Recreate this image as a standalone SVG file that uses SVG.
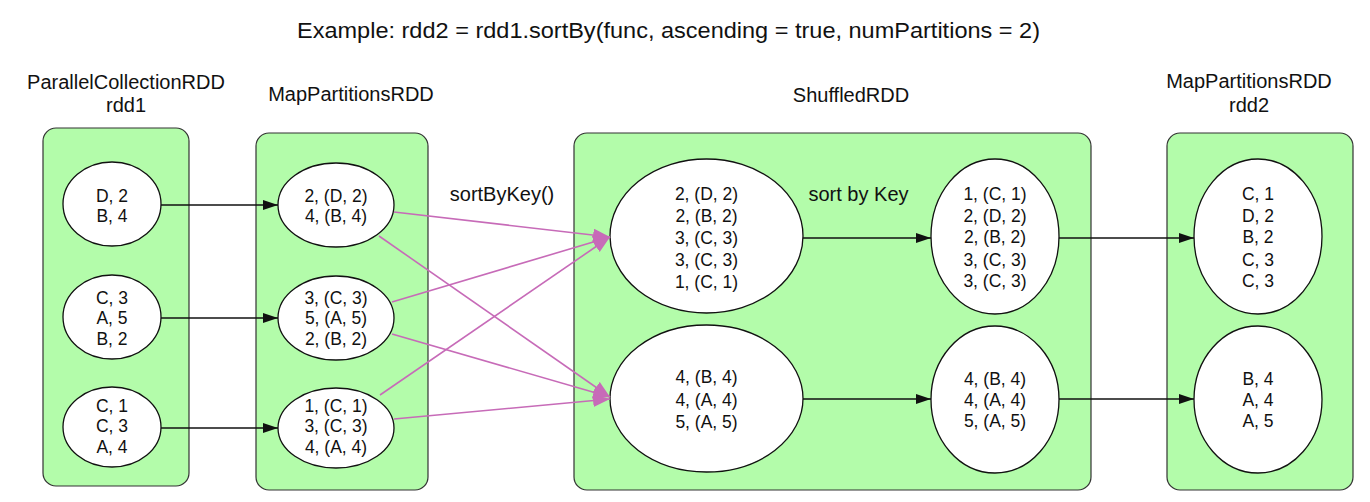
<svg xmlns="http://www.w3.org/2000/svg" width="1370" height="502" viewBox="0 0 1370 502">
<style>
text{font-family:"Liberation Sans",Arial,sans-serif;fill:#111;text-anchor:middle}
.t{font-size:22px}
.lbl{font-size:20px}
.n{font-size:17.5px}
.box{fill:#b3fcaa;stroke:#333;stroke-width:1.2}
.el{fill:#fff;stroke:#111;stroke-width:1.3}
.blk{stroke:#111;stroke-width:1.3;fill:none;marker-end:url(#ab)}
.pnk{stroke:#c76bb8;stroke-width:1.6;fill:none;marker-end:url(#ap)}
</style>
<defs>
<marker id="ab" markerUnits="userSpaceOnUse" markerWidth="16" markerHeight="11" refX="15" refY="5" orient="auto"><path d="M0,0 L15,5 L0,10 z" fill="#111"/></marker>
<marker id="ap" markerUnits="userSpaceOnUse" markerWidth="18" markerHeight="14" refX="17" refY="6.5" orient="auto"><path d="M0,0 L17,6.5 L0,13 z" fill="#c76bb8"/></marker>
</defs>
<rect width="1370" height="502" fill="#fff"/>
<text class="t" x="668.5" y="38" textLength="743" lengthAdjust="spacingAndGlyphs">Example: rdd2 = rdd1.sortBy(func, ascending = true, numPartitions = 2)</text>

<g id="rdd1">
<text class="lbl" x="126" y="89">ParallelCollectionRDD</text>
<text class="lbl" x="126" y="112">rdd1</text>
<rect class="box" x="43" y="128" width="146" height="358" rx="13"/>
</g>
<g id="map1">
<text class="lbl" x="351" y="101">MapPartitionsRDD</text>
<rect class="box" x="256" y="133" width="172" height="357" rx="13"/>
</g>
<g id="shuffled">
<text class="lbl" x="851" y="101.5">ShuffledRDD</text>
<rect class="box" x="574" y="133" width="517" height="357" rx="13"/>
</g>
<g id="rdd2">
<text class="lbl" x="1249" y="88">MapPartitionsRDD</text>
<text class="lbl" x="1249" y="112">rdd2</text>
<rect class="box" x="1167" y="133" width="186" height="357" rx="13"/>
</g>

<g id="p1a"><ellipse class="el" cx="112" cy="204" rx="49" ry="42"/>
<text class="n" x="112" y="201.5">D, 2</text><text class="n" x="112" y="221.5">B, 4</text></g>
<g id="p1b"><ellipse class="el" cx="112" cy="317" rx="49" ry="42"/>
<text class="n" x="112" y="303.5">C, 3</text><text class="n" x="112" y="324">A, 5</text><text class="n" x="112" y="344.5">B, 2</text></g>
<g id="p1c"><ellipse class="el" cx="112" cy="427" rx="49" ry="40"/>
<text class="n" x="112" y="411.5">C, 1</text><text class="n" x="112" y="432">C, 3</text><text class="n" x="112" y="452.5">A, 4</text></g>

<g id="m1a"><ellipse class="el" cx="336" cy="205" rx="58" ry="42"/>
<text class="n" x="336" y="201.5">2, (D, 2)</text><text class="n" x="336" y="221.5">4, (B, 4)</text></g>
<g id="m1b"><ellipse class="el" cx="336" cy="318" rx="58" ry="42"/>
<text class="n" x="336" y="303.5">3, (C, 3)</text><text class="n" x="336" y="324">5, (A, 5)</text><text class="n" x="336" y="344.5">2, (B, 2)</text></g>
<g id="m1c"><ellipse class="el" cx="336" cy="428" rx="58" ry="40"/>
<text class="n" x="336" y="411.5">1, (C, 1)</text><text class="n" x="336" y="432">3, (C, 3)</text><text class="n" x="336" y="452.5">4, (A, 4)</text></g>

<g id="s1a"><ellipse class="el" cx="706.5" cy="236" rx="96.5" ry="77"/>
<text class="n" x="706.5" y="199.5">2, (D, 2)</text><text class="n" x="706.5" y="221.5">2, (B, 2)</text><text class="n" x="706.5" y="243.5">3, (C, 3)</text><text class="n" x="706.5" y="265.5">3, (C, 3)</text><text class="n" x="706.5" y="287.5">1, (C, 1)</text></g>
<g id="s1b"><ellipse class="el" cx="706.5" cy="398.5" rx="96.5" ry="73.5"/>
<text class="n" x="706.5" y="383">4, (B, 4)</text><text class="n" x="706.5" y="405.5">4, (A, 4)</text><text class="n" x="706.5" y="428">5, (A, 5)</text></g>

<g id="s2a"><ellipse class="el" cx="995" cy="236.5" rx="64" ry="77.5"/>
<text class="n" x="995" y="199.5">1, (C, 1)</text><text class="n" x="995" y="221.5">2, (D, 2)</text><text class="n" x="995" y="243">2, (B, 2)</text><text class="n" x="995" y="265.5">3, (C, 3)</text><text class="n" x="995" y="287">3, (C, 3)</text></g>
<g id="s2b"><ellipse class="el" cx="995" cy="399.5" rx="64" ry="73.5"/>
<text class="n" x="995" y="384.5">4, (B, 4)</text><text class="n" x="995" y="405.5">4, (A, 4)</text><text class="n" x="995" y="427">5, (A, 5)</text></g>

<g id="r2a"><ellipse class="el" cx="1258" cy="236.5" rx="64" ry="77.5"/>
<text class="n" x="1258" y="199.5">C, 1</text><text class="n" x="1258" y="221.5">D, 2</text><text class="n" x="1258" y="243">B, 2</text><text class="n" x="1258" y="265.5">C, 3</text><text class="n" x="1258" y="287">C, 3</text></g>
<g id="r2b"><ellipse class="el" cx="1258" cy="399.5" rx="64" ry="73.5"/>
<text class="n" x="1258" y="384.5">B, 4</text><text class="n" x="1258" y="405.5">A, 4</text><text class="n" x="1258" y="427">A, 5</text></g>

<g id="connectors">
<line class="blk" x1="161" y1="205" x2="278" y2="205"/>
<line class="blk" x1="161" y1="318" x2="278" y2="318"/>
<line class="blk" x1="161" y1="428" x2="278" y2="428"/>
<line class="blk" x1="803" y1="238" x2="931" y2="238"/>
<line class="blk" x1="803" y1="399" x2="931" y2="399"/>
<line class="blk" x1="1059" y1="238" x2="1194" y2="238"/>
<line class="blk" x1="1059" y1="399" x2="1194" y2="399"/>
<line class="pnk" x1="394" y1="212" x2="610" y2="237"/>
<line class="pnk" x1="379" y1="236" x2="610" y2="397"/>
<line class="pnk" x1="392" y1="302" x2="610" y2="237"/>
<line class="pnk" x1="392" y1="334" x2="610" y2="397"/>
<line class="pnk" x1="380" y1="395" x2="610" y2="237"/>
<line class="pnk" x1="394" y1="419" x2="610" y2="399"/>
<text class="lbl" x="502" y="201">sortByKey()</text>
<text class="lbl" x="858.5" y="201">sort by Key</text>
</g>
</svg>
